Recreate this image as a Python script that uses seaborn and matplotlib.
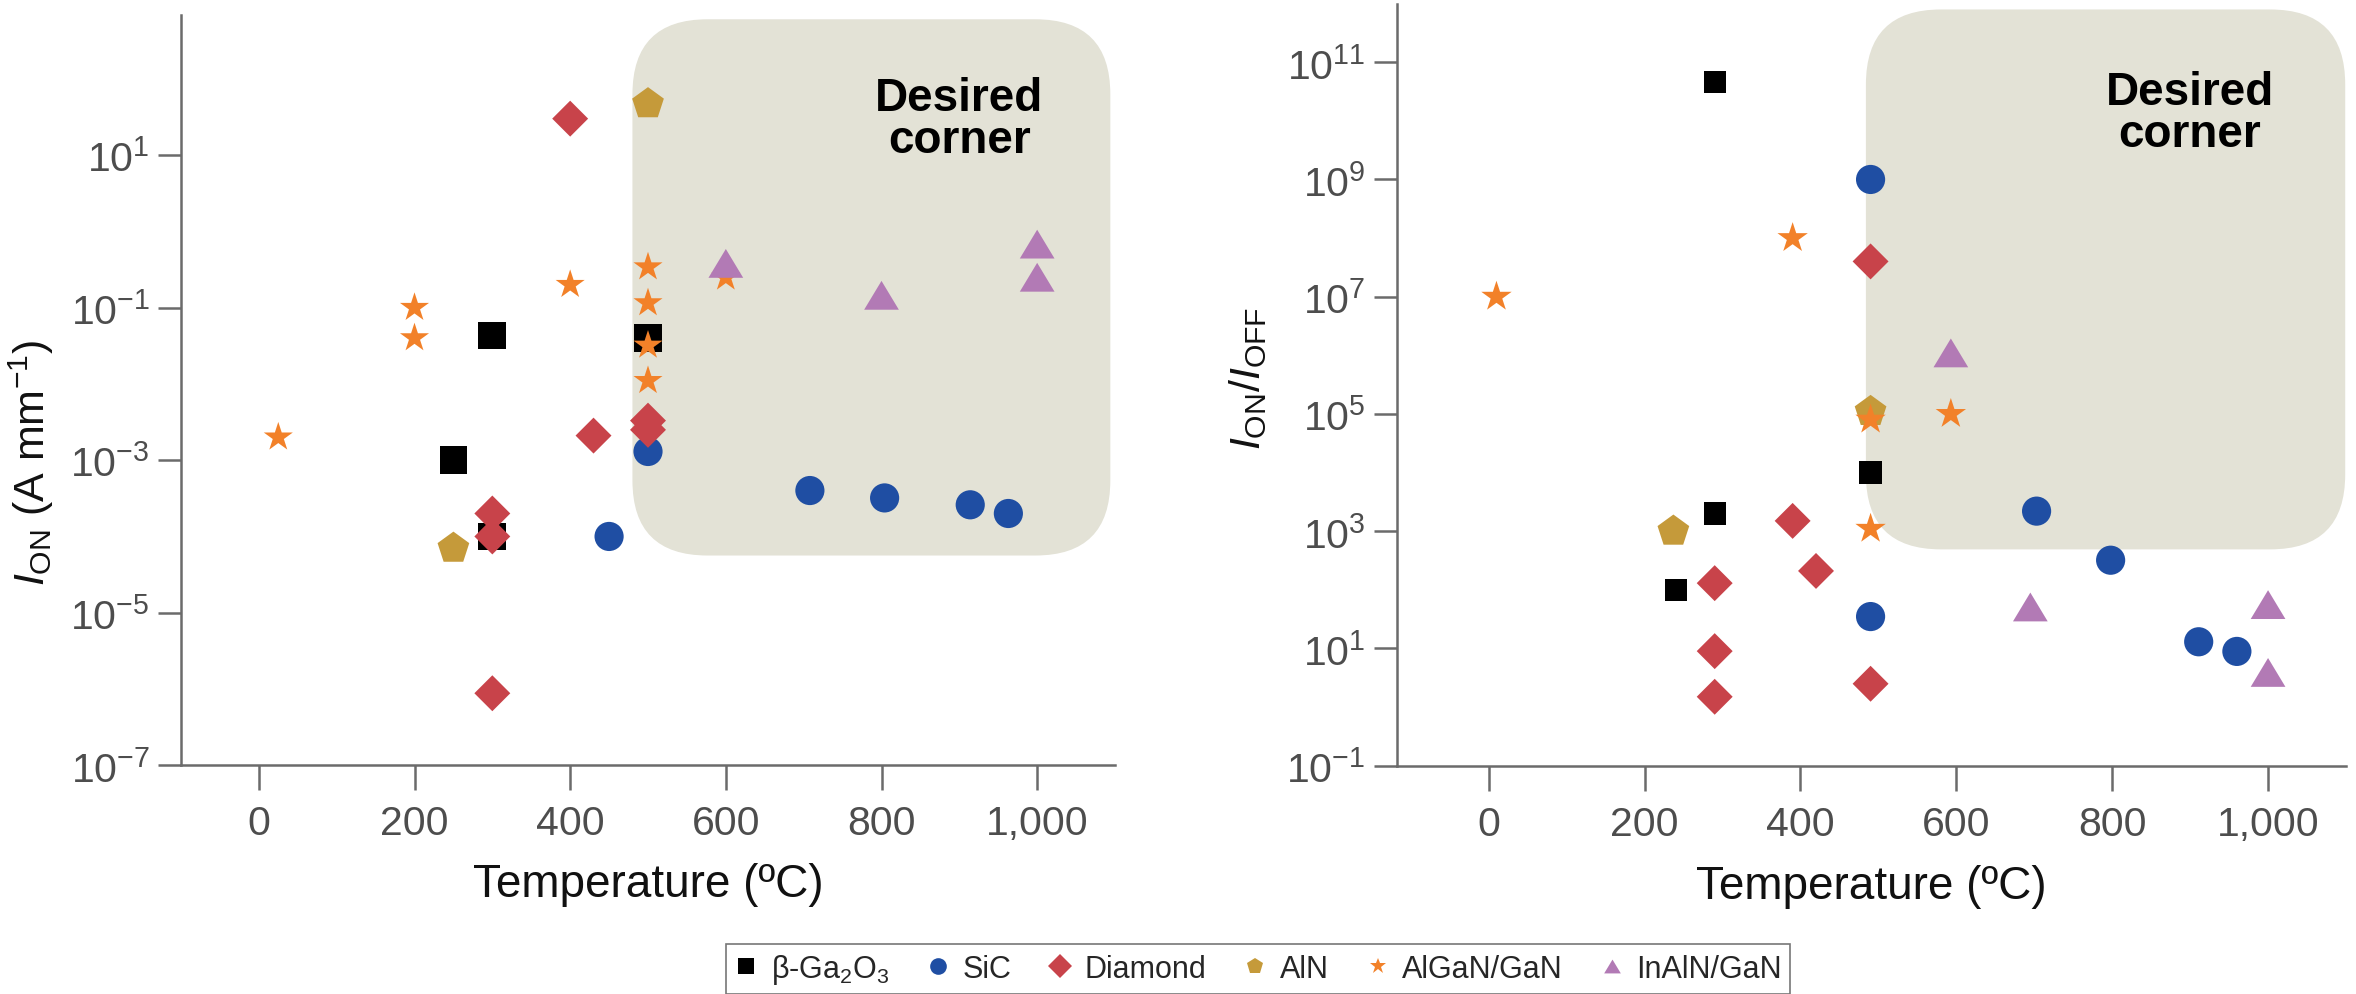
import numpy as np
import pandas as pd
import matplotlib
matplotlib.use("Agg")
import matplotlib.pyplot as plt
import seaborn as sns
from matplotlib.patches import FancyBboxPatch
from matplotlib.transforms import IdentityTransform
from matplotlib.lines import Line2D
from matplotlib.path import Path
from matplotlib.ticker import FixedLocator, FixedFormatter, NullLocator

# ---------------------------------------------------------------- data
materials = ["b-Ga2O3", "SiC", "Diamond", "AlN", "AlGaN/GaN", "InAlN/GaN"]
legend_labels = [r"β-Ga$_2$O$_3$", "SiC", "Diamond", "AlN", "AlGaN/GaN", "InAlN/GaN"]

# On-current (A/mm) versus temperature
ga2o3_on_T = [250, 300, 300, 500]
ga2o3_on = [1e-3, 4.3e-2, 1e-4, 4e-2]
sic_on_T = [450, 500, 708, 804, 914, 963]
sic_on = [1e-4, 1.3e-3, 4e-4, 3.2e-4, 2.6e-4, 2e-4]
diamond_on_T = [400, 430, 500, 500, 300, 300, 300]
diamond_on = [30, 2.1e-3, 3.3e-3, 2.5e-3, 2e-4, 1e-4, 8.8e-7]
aln_on_T = [250, 500]
aln_on = [7e-5, 47]
algan_on_T = [25, 200, 200, 400, 500, 500, 500, 500, 600]
algan_on = [2e-3, 0.1, 0.04, 0.2, 0.34, 0.115, 0.032, 0.011, 0.25]
inaln_on_T = [600, 800, 1000, 1000]
inaln_on = [0.38, 0.145, 0.68, 0.25]

# On/off current ratio versus temperature
ga2o3_ratio_T = [290, 290, 240, 490]
ga2o3_ratio = [4.6e10, 2e3, 1e2, 1e4]
sic_ratio_T = [490, 490, 703, 798, 911, 960]
sic_ratio = [1e9, 35, 2.2e3, 3.2e2, 13, 8.9]
diamond_ratio_T = [490, 390, 290, 420, 290, 290, 490]
diamond_ratio = [4e7, 1.5e3, 1.3e2, 2.1e2, 9, 1.5, 2.5]
aln_ratio_T = [490, 237]
aln_ratio = [1.1e5, 1e3]
algan_ratio_T = [390, 10, 490, 593, 490]
algan_ratio = [1e8, 1e7, 8e4, 1e5, 1.1e3]
inaln_ratio_T = [593, 695, 1000, 1000]
inaln_ratio = [1.1e6, 51, 56, 3.9]

x_ticks = [0, 200, 400, 600, 800, 1000]
x_tick_labels = ["0", "200", "400", "600", "800", "1,000"]
on_ticks = [-7, -5, -3, -1, 1]
ratio_ticks = [-1, 1, 3, 5, 7, 9, 11]

# ---------------------------------------------------------------- style
colors = ["#000000", "#1f4ea3", "#c8434a", "#c59a3a", "#f28129", "#b27ab5"]
triangle = Path([(-1.0, -0.83), (1.0, -0.83), (0.0, 0.83), (-1.0, -0.83)],
                [Path.MOVETO, Path.LINETO, Path.LINETO, Path.CLOSEPOLY])
marker_list = ["s", "o", "D", "p", "*", triangle]
palette = dict(zip(materials, colors))
markers = dict(zip(materials, marker_list))
# marker sizes in points for each panel (area = size**2)
sizes_on = dict(zip(materials, [20, 21, 18.3, 24, 22, 25]))
sizes_ratio = dict(zip(materials, [16, 21, 18.3, 24, 23, 25]))

sns.set_theme(style="ticks")
font = "Liberation Sans"
plt.rcParams["font.family"] = [font, "DejaVu Sans"]
plt.rcParams["mathtext.fontset"] = "custom"
plt.rcParams["mathtext.rm"] = font
plt.rcParams["mathtext.it"] = font + ":italic"
plt.rcParams["mathtext.bf"] = font + ":bold"

spine_color = "#6b6b6b"
tick_label_color = "#4d4d4d"
label_color = "#111111"
box_color = "#e3e2d6"


def frame(groups):
    rows = []
    for mat, (ts, vs) in zip(materials, groups):
        for t, v in zip(ts, vs):
            rows.append({"material": mat, "T": t, "value": v})
    return pd.DataFrame(rows)


df_on = frame([(ga2o3_on_T, ga2o3_on), (sic_on_T, sic_on), (diamond_on_T, diamond_on),
               (aln_on_T, aln_on), (algan_on_T, algan_on), (inaln_on_T, inaln_on)])
df_ratio = frame([(ga2o3_ratio_T, ga2o3_ratio), (sic_ratio_T, sic_ratio),
                  (diamond_ratio_T, diamond_ratio), (aln_ratio_T, aln_ratio),
                  (algan_ratio_T, algan_ratio), (inaln_ratio_T, inaln_ratio)])

W, H = 2356, 995
fig = plt.figure(figsize=(W / 100, H / 100), dpi=100)
ax1 = fig.add_axes([181 / W, 1 - 766.3 / H, (1115 - 181) / W, (766.3 - 16) / H])
ax2 = fig.add_axes([1396.7 / W, 1 - 766.7 / H, (2346 - 1396.7) / W, (766.7 - 4.6) / H])
panels = [
    (ax1, df_on, sizes_on, (-100, 1100), (1e-7, 10 ** 2.836), on_ticks,
     r"$\mathit{I}_{\mathrm{ON}}$ (A mm$^{-1}$)", (-0.16, 0.405)),
    (ax2, df_ratio, sizes_ratio, (-118, 1100), (1e-1, 1e12), ratio_ticks,
     r"$\mathit{I}_{\mathrm{ON}}/\mathit{I}_{\mathrm{OFF}}$", (-0.157, 0.51)),
]

for ax, df, sizes, xlim, ylim, yticks, ylabel, ylabel_xy in panels:
    sns.scatterplot(data=df, x="T", y="value", hue="material", style="material",
                    size="material", hue_order=materials, style_order=materials,
                    size_order=materials, palette=palette, markers=markers,
                    sizes={k: v ** 2 for k, v in sizes.items()}, linewidth=0,
                    legend=False, ax=ax, zorder=2)
    ax.set_yscale("log")
    ax.set_xlim(*xlim)
    ax.set_ylim(*ylim)
    ax.xaxis.set_major_locator(FixedLocator(x_ticks))
    ax.xaxis.set_major_formatter(FixedFormatter(x_tick_labels))
    ax.yaxis.set_major_locator(FixedLocator([10.0 ** k for k in yticks]))
    ax.yaxis.set_major_formatter(FixedFormatter(
        [r"$\mathregular{10^{%d}}$" % k for k in yticks]))
    ax.yaxis.set_minor_locator(NullLocator())
    for side in ("top", "right"):
        ax.spines[side].set_visible(False)
    for side in ("left", "bottom"):
        ax.spines[side].set_color(spine_color)
        ax.spines[side].set_linewidth(1.8)
    ax.tick_params(axis="x", length=18, width=1.8, color=spine_color, pad=10,
                   labelsize=29.5, labelcolor=tick_label_color)
    ax.tick_params(axis="y", length=16.5, width=1.8, color=spine_color, pad=6,
                   labelsize=29.5, labelcolor=tick_label_color)
    ax.set_xlabel("Temperature (ºC)", fontsize=33, color=label_color, va="center")
    ax.xaxis.set_label_coords(0.5, -0.158)
    ax.set_ylabel(ylabel, fontsize=31, color=label_color, va="center")
    ax.yaxis.set_label_coords(*ylabel_xy)
    ax.set_facecolor("white")


def corner_box(ax, x0, x1, y0, y1, text_xy):
    (px0, py0) = ax.transData.transform((x0, y0))
    (px1, py1) = ax.transData.transform((x1, y1))
    patch = FancyBboxPatch((px0, py0), px1 - px0, py1 - py0,
                           boxstyle="round,pad=0,rounding_size=75",
                           transform=IdentityTransform(), facecolor=box_color,
                           edgecolor="none", zorder=0)
    ax.add_patch(patch)
    ax.text(text_xy[0], text_xy[1], "Desired\ncorner", ha="center", va="center",
            fontsize=33, fontweight="bold", color="black", linespacing=0.95,
            zorder=1)


corner_box(ax1, 480, 1094, 10 ** -4.25, 10 ** 2.78, (900, 10 ** 1.47))
corner_box(ax2, 484, 1099, 10 ** 2.69, 10 ** 11.9, (900, 10 ** 10.13))

handles = [Line2D([], [], linestyle="none", marker=m, color=c, markersize=12,
                  markeredgewidth=0) for m, c in zip(marker_list, colors)]
leg = fig.legend(handles, legend_labels, loc="center", bbox_to_anchor=(1258 / W, 1 - 970 / H),
                 ncol=6, frameon=True, fancybox=False, edgecolor="#555555",
                 fontsize=22, handletextpad=0.4, columnspacing=1.2, borderpad=0.25,
                 handlelength=0.8)
leg.get_frame().set_linewidth(1.2)

fig.savefig("out.png", dpi=100, facecolor="white")
